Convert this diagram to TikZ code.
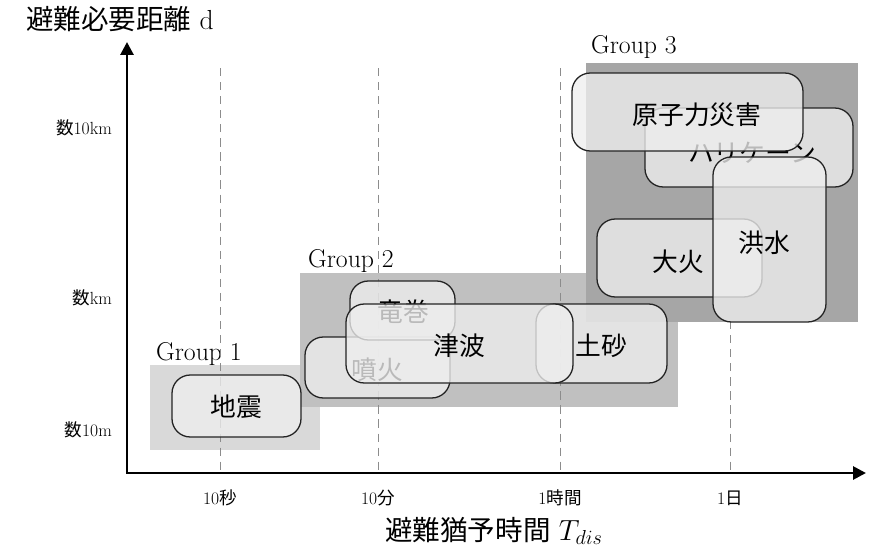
\documentclass[tikz,border=0pt]{standalone}
\usepackage{fontspec}
\newfontfamily\jp{Noto Sans CJK JP}
\usepackage{xcolor}
\definecolor{group_one}{RGB}{217,217,217}
\definecolor{group_two}{RGB}{192,192,192}
\definecolor{group_three}{RGB}{166,166,166}
\definecolor{box_fill}{RGB}{238,238,238}
\definecolor{box_line}{RGB}{35,35,35}
\definecolor{dash_gray}{RGB}{140,140,140}
\usepackage{tikz}
\usetikzlibrary{arrows.meta}

\tikzset{
  hazard/.style={draw=box_line, line width=1.1pt, rounded corners=0.55cm,
    fill=box_fill, fill opacity=0.78},
  hazardtext/.style={font=\jp\fontsize{22}{22}\selectfont},
  ticktext/.style={font=\fontsize{15}{15}\selectfont},
  grouptext/.style={font=\fontsize{22}{22}\selectfont, anchor=west},
  axistext/.style={font=\fontsize{23.5}{24}\selectfont},
  axisline/.style={line width=2.4pt, {Triangle[length=11pt,width=11pt]}-{Triangle[length=11pt,width=11pt]}},
  gridline/.style={dash_gray, line width=0.8pt, dash pattern=on 7pt off 5pt}
}

\begin{document}
\begin{tikzpicture}[x=0.03cm, y=-0.03cm]
\useasboundingbox (0,0) rectangle (882,550);

% groups
\fill[group_one] (150,365) rectangle (320,450);
\fill[group_two] (300,273) rectangle (678,407);
\node[grouptext] (gone) at (152,354) {Group 1};
\node[grouptext] (gtwo) at (304,261) {Group 2};
\node[grouptext] (gthree) at (587,47) {Group 3};

% time grid
\foreach \x/\n/\u in {220/10/秒, 378/10/分, 560/1/時間, 730/1/日} {
  \draw[gridline] (\x,68) -- (\x,473);
  \node[ticktext] (tick\x) at (\x,498) {\n{\jp\u}};
}

\fill[group_three] (586,63) rectangle (858,322);

% group 1
\draw[hazard] (172,375) rectangle (301,437);
\node[hazardtext] (jishin) at (236,407) {地震};

% group 2
\draw[hazard] (305,337) rectangle (450,398);
\node[hazardtext] (funka) at (377,370) {噴火};
\draw[hazard] (350,281) rectangle (455,340);
\node[hazardtext] (tatsumaki) at (403,312) {竜巻};
\draw[hazard] (536,304) rectangle (667,383);
\node[hazardtext] (dosha) at (601,346) {土砂};
\draw[hazard] (346,304) rectangle (573,383);
\node[hazardtext] (tsunami) at (459,346) {津波};

% group 3
\draw[hazard] (597,219) rectangle (762,297);
\node[hazardtext] (taika) at (678,262) {大火};
\draw[hazard] (645,108) rectangle (853,187);
\node[hazardtext] (hurricane) at (752,153) {ハリケーン};
\draw[hazard] (713,157) rectangle (826,322);
\node[hazardtext] (kozui) at (764,243) {洪水};
\draw[hazard] (572,73) rectangle (803,151);
\node[hazardtext] (genshiryoku) at (697,115) {原子力災害};

% axes
\coordinate (origin) at (127,473);
\coordinate (xtip) at (866,473);
\coordinate (ytip) at (127,42);
\draw[axisline] (ytip) -- (origin) -- (xtip);

\node[ticktext, anchor=east] (dtop) at (116,128) {{\jp 数}10km};
\node[ticktext, anchor=east] (dmid) at (116,298) {{\jp 数}km};
\node[ticktext, anchor=east] (dlow) at (116,430) {{\jp 数}10m};

\node[axistext, anchor=west] (ylabel) at (22,19) {{\jp 避難必要距離} d};
\node[axistext] (xlabel) at (494,531) {{\jp 避難猶予時間} $T_{dis}$};

\end{tikzpicture}
\end{document}
